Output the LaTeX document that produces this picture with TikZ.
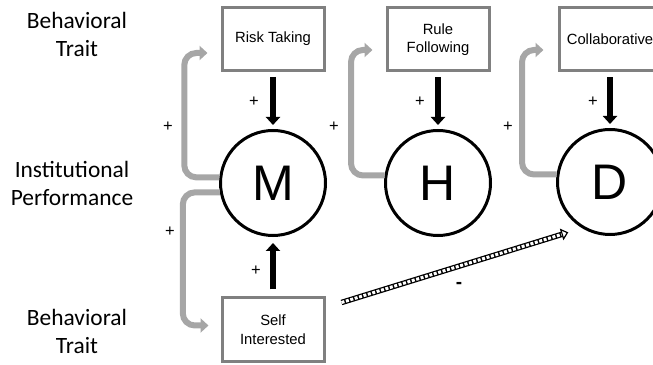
\documentclass[tikz,border=0pt]{standalone}
\usepackage{fontspec}
\setmainfont{Carlito}
\newfontfamily\boxfont{Liberation Sans}
\usetikzlibrary{arrows.meta}
\definecolor{traitgray}{RGB}{128,128,128}
\definecolor{loopgray}{RGB}{166,166,166}

\begin{document}
\begin{tikzpicture}[x=1pt,y=1pt,
		rowlabel/.style={align=center,font=\fontsize{23.4}{28}\selectfont},
		trait/.style={draw=traitgray,line width=3pt,minimum width=102pt,minimum height=63pt,align=center,inner sep=0pt,font=\boxfont\fontsize{14.8}{18.5}\selectfont},
		inst/.style={circle,draw,line width=3pt,minimum size=105pt,inner sep=0pt,font=\boxfont\fontsize{50}{50}\selectfont},
		sign/.style={inner sep=0pt,font=\boxfont\fontsize{16.5}{18}\selectfont},
		push/.style={line width=6pt,-{Triangle[width=14pt,length=8pt]}},
		feedback/.style={draw=loopgray,line width=6pt,rounded corners=12pt,-{Triangle[width=14pt,length=8pt]}},
		hatched/.style={line width=5.5pt,-{Triangle[open,width=12pt,length=7pt,line width=1.2pt]},
			postaction={draw=white,-,line width=3pt,dash pattern=on 3pt off 1.6pt,shorten >=7pt}}]
			\useasboundingbox (0,0) rectangle (653,364);
			\node[rowlabel] (top) at (77,330) {Behavioral\\Trait};
			\node[rowlabel] (mid) at (72,181) {Institutional\\Performance};
			\node[rowlabel] (bot) at (77,33) {Behavioral\\Trait};
			\node[trait] (risk) at (273,325) {Risk Taking};
			\node[trait] (rule) at (438,324.5) {Rule\\Following};
			\node[trait] (collab) at (610,324.5) {Collaborative};
			\node[trait] (self) at (273,34.5) {Self\\Interested};
			\node[inst] (m) at (273,181) {M};
			\node[inst] (h) at (438,181) {H};
			\node[inst] (d) at (610,182) {D};
			\draw[push,shorten <=5pt,shorten >=4pt] (risk) -- (m);
			\draw[push,shorten <=5pt,shorten >=4pt] (rule) -- (h);
			\draw[push,shorten <=5pt,shorten >=4pt] (collab) -- (d);
			\draw[push,shorten <=7pt,shorten >=6pt] (self) -- (m);
			\draw[feedback,shorten >=13pt] (m.174) -- ++(-35,0) |- ([yshift=-14pt]risk.west);
			\draw[feedback,shorten >=13pt] (h.172) -- ++(-33.5,0) |- ([yshift=-10.5pt]rule.west);
			\draw[feedback,shorten >=14pt] (d.172) -- ++(-34.5,0) |- ([yshift=-10.5pt]collab.west);
			\draw[feedback,shorten >=12pt] (m.190) -- ++(-37,0) |- ([yshift=4pt]self.west);
			\draw[hatched] ([shift={(16,-6)}]self.north east) -- ([shift={(-7,-9)}]d.230);
			\node[sign] (pm) at (168,237) {+};
			\node[sign] (ph) at (334,237) {+};
			\node[sign] (pd) at (508,237) {+};
			\node[sign] (pr) at (254,262) {+};
			\node[sign] (pf) at (420,262) {+};
			\node[sign] (pc) at (593,262) {+};
			\node[sign] (ps) at (256,93) {+};
			\node[sign] (pb) at (170,132) {+};
			\node[sign,font=\boxfont\bfseries\fontsize{19}{20}\selectfont] (ng) at (459,79) {-};
		\end{tikzpicture}
\end{document}
